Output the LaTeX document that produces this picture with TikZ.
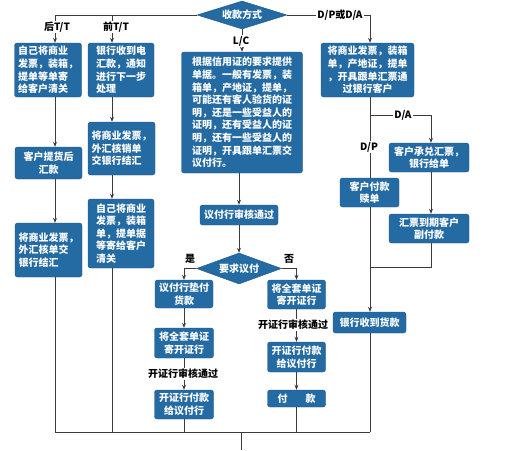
\documentclass[tikz,border=0pt]{standalone}
\usepackage{fontspec}
\setmainfont{Noto Sans CJK SC}
\usetikzlibrary{shapes.geometric,arrows.meta}
\definecolor{boxblue}{RGB}{36,106,163}
\definecolor{flowline}{RGB}{60,60,60}
\tikzset{
  stepbox/.style={fill=boxblue, draw=boxblue!80!black, rounded corners=2.5pt, text=white,
    font=\bfseries\fontsize{10}{12.6}\selectfont, align=center, inner sep=0pt},
  choice/.style={diamond, aspect=3, fill=boxblue, draw=boxblue!80!black, text=white,
    font=\bfseries\fontsize{10}{12}\selectfont, inner sep=0pt},
  flow/.style={draw=flowline, line width=0.9pt},
  arr/.style={flow, -{Stealth[length=5pt,width=4pt]}},
  tag/.style={fill=white, inner sep=1pt, font=\bfseries\fontsize{10}{12}\selectfont}
}

\begin{document}
\begin{tikzpicture}[x=1pt,y=1pt,yscale=-1,xscale=1]
\useasboundingbox (0,0) rectangle (508,450);

% Decision
\node [choice, minimum width=90pt, minimum height=28pt] (pay) at (242,15) {收款方式};

% Text Node
\node [stepbox, minimum width=67pt, minimum height=54pt, align=left] (tt1) at (48,70) {自己将商业\\发票，装箱，\\提单等单寄\\给客户清关};
% Text Node
\node [stepbox, minimum width=67pt, minimum height=32pt] (tt2) at (48.5,163) {客户提货后\\汇款};
% Text Node
\node [stepbox, minimum width=67pt, minimum height=54pt, align=left] (tt3) at (48.5,250) {将商业发票，\\外汇核单交\\银行结汇};

% Text Node
\node [stepbox, minimum width=66pt, minimum height=54pt, align=left] (pre1) at (121,70) {银行收到电\\汇款，通知\\进行下一步\\处理};
% Text Node
\node [stepbox, minimum width=67pt, minimum height=53pt, align=left] (pre2) at (121.5,148.5) {将商业发票，\\外汇核销单\\交银行结汇};
% Text Node
\node [stepbox, minimum width=66pt, minimum height=69pt, align=left] (pre3) at (121,233.5) {自己将商业\\发票，装箱\\单，提单据\\等寄给客户\\清关};

% Text Node
\node [stepbox, minimum width=121pt, minimum height=121pt, align=left] (lc) at (242,112.5) {根据信用证的要求提供\\单据。一般有发票，装\\箱单，产地证，提单，\\可能还有客人验货的证\\明，还是一些受益人的\\证明，还有受益人的证\\明，还有一些受益人的\\证明，开具跟单汇票交\\议付行。};
% Text Node
\node [stepbox, minimum width=78pt, minimum height=20pt] (chk) at (239,215) {议付行审核通过};
% Decision
\node [choice, minimum width=85pt, minimum height=31pt] (ask) at (239,268.5) {要求议付};

% Text Node
\node [stepbox, minimum width=58pt, minimum height=28pt] (yes1) at (184,294) {议付行垫付\\货款};
% Text Node
\node [stepbox, minimum width=59pt, minimum height=30pt] (yes2) at (184,343) {将全套单证\\寄开证行};
% Text Node
\node [stepbox, minimum width=59pt, minimum height=29pt] (yes3) at (184,404.5) {开证行付款\\给议付行};

% Text Node
\node [stepbox, minimum width=58pt, minimum height=29pt] (no1) at (296.5,294.5) {将全套单证\\寄开证行};
% Text Node
\node [stepbox, minimum width=58pt, minimum height=30pt] (no2) at (296.5,357) {开证行付款\\给议付行};
% Text Node
\node [stepbox, minimum width=58pt, minimum height=17pt] (no3) at (296.5,398.5) {付\hspace{1.8em}款};

% Text Node
\node [stepbox, minimum width=93pt, minimum height=54pt] (dc1) at (367.5,70) {将商业发票，装箱\\单，产地证，提单\\，开具跟单汇票通\\过银行客户};
% Text Node
\node [stepbox, minimum width=80pt, minimum height=29pt] (da1) at (429,157.5) {客户承兑汇票，\\银行给单};
% Text Node
\node [stepbox, minimum width=80pt, minimum height=29pt] (da2) at (429,228.5) {汇票到期客户\\副付款};
% Text Node
\node [stepbox, minimum width=59pt, minimum height=29pt] (dp1) at (369.5,192.5) {客户付款\\赎单};
% Text Node
\node [stepbox, minimum width=73pt, minimum height=21pt] (got) at (369.5,322.5) {银行收到货款};

% Corners
\coordinate (colA) at (55,15);
\coordinate (colB) at (112,15);
\coordinate (colD) at (370,15);
\coordinate (split) at (370,115);
\coordinate (daTop) at (431,115);
\coordinate (daEnd) at (431,267);
\coordinate (base) at (241,432);
\coordinate (exit) at (241,450);

%Straight Lines
\draw [flow] (pay.west) -- (colA);
\draw [arr] (colA) -- (tt1.north -| colA);
\draw [arr] (colB) -- (pre1.north -| colB);
\draw [arr] (tt1.south -| colA) -- (tt2.north -| colA);
\draw [arr] (tt2.south -| colA) -- (tt3.north -| colA);
\draw [flow] (tt3.south -| colA) -- (colA |- base);
\draw [arr] (pre1.south -| colB) -- (pre2.north -| colB);
\draw [arr] (pre2.south -| colB) -- (pre3.north -| colB);
\draw [flow] (pre3.south -| colB) -- (colB |- base);
%Straight Lines
\draw [arr] (pay.south) -- (pay.south |- lc.north);
\draw [arr] (lc.south -| chk.north) -- (chk.north);
\draw [arr] (chk.south) -- (ask.north);
\draw [arr] (ask.west) -| (yes1.north);
\draw [arr] (ask.east) -| (no1.north);
\draw [arr] (yes1) -- (yes2);
\draw [arr] (yes2) -- (yes3);
\draw [flow] (yes3.south) -- (yes3.south |- base);
\draw [arr] (no1) -- (no2);
\draw [arr] (no2) -- (no3);
\draw [flow] (no3.south) -- (no3.south |- base);
%Straight Lines
\draw [flow] (pay.east) -- (colD);
\draw [arr] (colD) -- (dc1.north -| colD);
\draw [flow] (dc1.south -| colD) -- (dp1.north -| colD);
\draw [flow] (split) -- (daTop);
\draw [arr] (daTop) -- (da1.north -| daTop);
\draw [arr] (da1.south -| daTop) -- (da2.north -| daTop);
\draw [flow] (da2.south -| daTop) -- (daEnd) -- (colD |- daEnd);
\draw [flow] (dp1.south -| colD) -- (colD |- daEnd);
\draw [arr] (colD |- daEnd) -- (got.north -| colD);
\draw [flow] (got.south -| colD) -- (colD |- base);
%Straight Lines
\draw [flow] (colA |- base) -- (colD |- base);
\draw [flow] (base) -- (exit);

% Text Node
\node [tag] (ttAfter) at (57,27) {后T/T};
\node [tag] (ttBefore) at (116,27) {前T/T};
\node [tag] (lcTag) at (241,41) {L/C};
\node [tag] (dpdaTag) at (340,15) {D/P或D/A};
\node [tag] (daTag) at (403,115) {D/A};
\node [tag] (dpTag) at (369,147) {D/P};
\node [tag, fill=none] (yesTag) at (190,259) {是};
\node [tag, fill=none] (noTag) at (289,259) {否};
\node [tag] (passL) at (183,374) {开证行审核通过};
\node [tag] (passR) at (293,325) {开证行审核通过};

\end{tikzpicture}
\end{document}
